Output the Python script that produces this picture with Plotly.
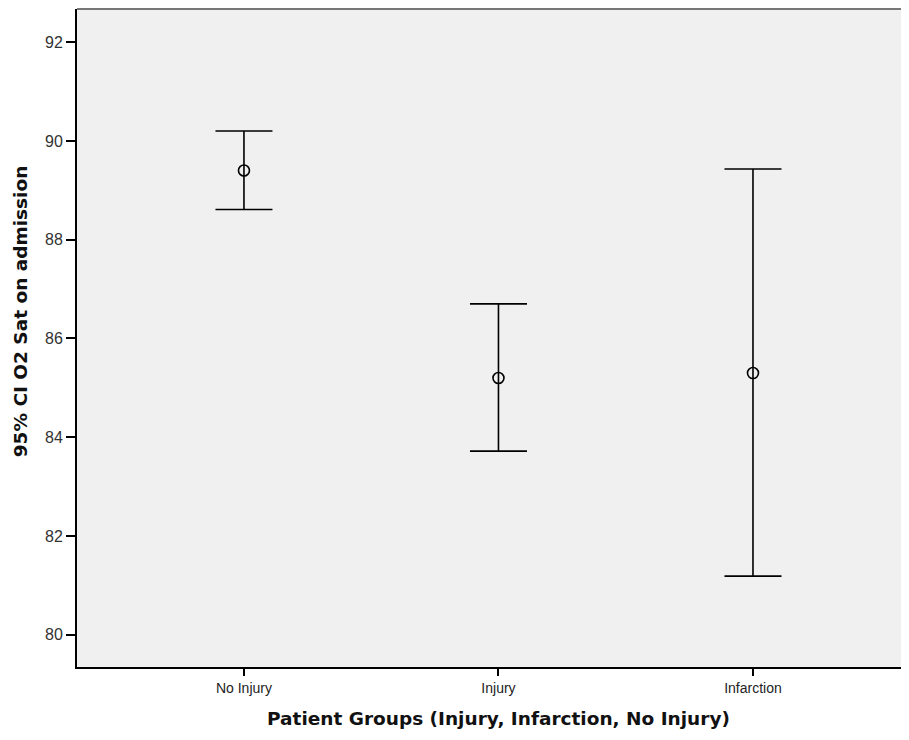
import plotly.graph_objects as go

groups = ["No Injury", "Injury", "Infarction"]
means = [89.40, 85.20, 85.30]
upper = [90.20, 86.70, 89.43]
lower = [88.61, 83.72, 81.19]
y_ticks = [80, 82, 84, 86, 88, 90, 92]

err_plus = [u - m for u, m in zip(upper, means)]
err_minus = [m - l for m, l in zip(means, lower)]

title_font = dict(family="DejaVu Sans, Verdana", size=18.5, color="#111111", weight="bold")

fig = go.Figure()
fig.add_trace(go.Scatter(
    x=groups, y=means, mode="markers",
    marker=dict(symbol="circle-open", size=11, color="#000000", line=dict(width=1.6)),
    error_y=dict(type="data", symmetric=False, array=err_plus, arrayminus=err_minus,
                 color="#000000", thickness=1.6, width=28.5),
    showlegend=False, hoverinfo="skip",
))

fig.update_layout(
    width=901, height=732,
    margin=dict(l=69, r=0, t=1, b=73),
    paper_bgcolor="white", plot_bgcolor="#f0f0f0",
    xaxis=dict(
        range=[-0.656, 2.613], showgrid=False, zeroline=False,
        showline=True, linecolor="#000000", linewidth=2,
        ticks="outside", ticklen=7, tickwidth=1.5, tickcolor="#000000",
        tickfont=dict(family="Liberation Sans, Arial", size=14, color="#222222"),
    ),
    yaxis=dict(
        range=[79.35, 92.67], tickvals=y_ticks, showgrid=False, zeroline=False,
        showline=True, linecolor="#000000", linewidth=2,
        ticks="outside", ticklen=9, tickwidth=2, tickcolor="#000000",
        tickfont=dict(family="Liberation Sans, Arial", size=16, color="#333333"),
    ),
)
fig.add_annotation(
    text="95% CI O2 Sat on admission", textangle=-90,
    xref="paper", yref="y", x=0, y=86.55, xanchor="center", yanchor="middle",
    xshift=-57, showarrow=False, font=title_font,
)
fig.add_annotation(
    text="Patient Groups (Injury, Infarction, No Injury)",
    xref="x", yref="paper", x=groups[1], y=0, xanchor="center", yanchor="middle",
    yshift=-51, showarrow=False, font=title_font,
)
fig.add_shape(type="line", xref="paper", yref="paper", x0=0, x1=1, y0=1, y1=1,
              line=dict(color="#777777", width=2))

fig.write_html("out.html")
